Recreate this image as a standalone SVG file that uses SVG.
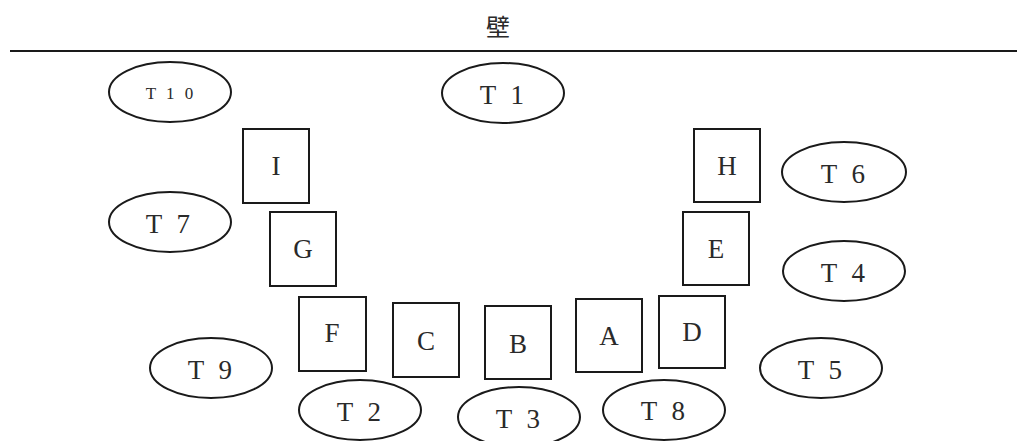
<svg xmlns="http://www.w3.org/2000/svg" width="1017" height="441" viewBox="0 0 1017 441">
<style>
.s{fill:#fff;stroke:#1a1a1a;stroke-width:2}
.t{font-family:"Liberation Serif","Noto Sans CJK JP",serif;font-size:27px;fill:#2a2a2a;text-anchor:middle}
.tl{letter-spacing:4px}
.sm{font-size:17px;letter-spacing:3px}
.w{font-family:"Noto Sans CJK JP","Liberation Serif",serif;font-size:24px;fill:#2a2a2a;text-anchor:middle}
</style>
<rect width="1017" height="441" fill="#fff"/>
<g id="wall">
<line x1="10" y1="51" x2="1017" y2="51" stroke="#1a1a1a" stroke-width="2"/>
<text class="w" x="498" y="36">壁</text>
</g>
<g id="connectors"></g>
<g id="T10"><ellipse class="s" cx="170" cy="92" rx="61" ry="30"/><text class="t sm" x="171" y="99">T 1 0</text></g>
<g id="T1"><ellipse class="s" cx="503" cy="93" rx="61" ry="30"/><text class="t tl" x="504" y="104">T 1</text></g>
<g id="T6"><ellipse class="s" cx="844" cy="172" rx="62" ry="30"/><text class="t tl" x="845" y="183">T 6</text></g>
<g id="T7"><ellipse class="s" cx="170" cy="222" rx="61" ry="30"/><text class="t tl" x="170" y="233">T 7</text></g>
<g id="T4"><ellipse class="s" cx="844" cy="271" rx="61" ry="30"/><text class="t tl" x="845" y="282">T 4</text></g>
<g id="T9"><ellipse class="s" cx="211" cy="368" rx="61" ry="30"/><text class="t tl" x="212" y="379">T 9</text></g>
<g id="T5"><ellipse class="s" cx="821" cy="368" rx="61" ry="30"/><text class="t tl" x="822" y="379">T 5</text></g>
<g id="T2"><ellipse class="s" cx="360" cy="410" rx="61" ry="30"/><text class="t tl" x="361" y="421">T 2</text></g>
<g id="T3"><ellipse class="s" cx="519" cy="417" rx="61" ry="30"/><text class="t tl" x="520" y="428">T 3</text></g>
<g id="T8"><ellipse class="s" cx="664" cy="410" rx="61" ry="30"/><text class="t tl" x="665" y="420">T 8</text></g>
<g id="I"><rect class="s" x="243" y="129" width="66" height="74"/><text class="t" x="276" y="175">I</text></g>
<g id="H"><rect class="s" x="694" y="129" width="66" height="73"/><text class="t" x="727" y="175">H</text></g>
<g id="G"><rect class="s" x="270" y="212" width="66" height="74"/><text class="t" x="303" y="258">G</text></g>
<g id="E"><rect class="s" x="683" y="212" width="66" height="73"/><text class="t" x="716" y="258">E</text></g>
<g id="F"><rect class="s" x="299" y="297" width="67" height="74"/><text class="t" x="332" y="342">F</text></g>
<g id="C"><rect class="s" x="393" y="303" width="66" height="74"/><text class="t" x="426" y="350">C</text></g>
<g id="B"><rect class="s" x="485" y="306" width="66" height="73"/><text class="t" x="518" y="353">B</text></g>
<g id="A"><rect class="s" x="576" y="299" width="66" height="73"/><text class="t" x="609" y="345">A</text></g>
<g id="D"><rect class="s" x="659" y="296" width="66" height="72"/><text class="t" x="692" y="341">D</text></g>
</svg>
